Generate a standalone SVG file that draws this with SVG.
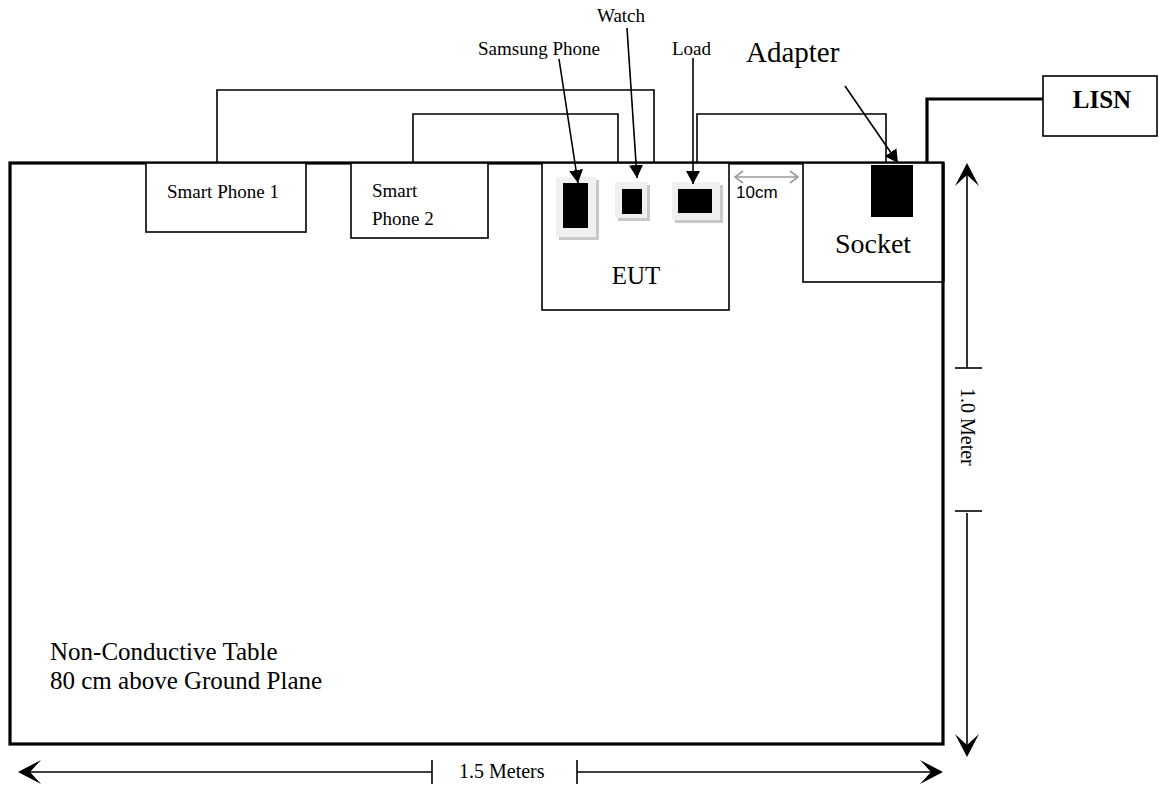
<svg xmlns="http://www.w3.org/2000/svg" width="1159" height="787" viewBox="0 0 1159 787">
<style>
.t{font-family:"Liberation Serif","Times New Roman",serif;fill:#000}
.a{font-family:"Liberation Sans",Arial,sans-serif}
.box{fill:#fff;stroke:#000;stroke-width:1.6}
.wire{fill:none;stroke:#000;stroke-width:1.6}
.thick{fill:none;stroke:#000;stroke-width:3.2}
.dim{fill:none;stroke:#000;stroke-width:1.6}
.ptr{fill:none;stroke:#000;stroke-width:1.6;marker-end:url(#tri)}
.pad{fill:#f0f0f0}
.shd{fill:#c8c8c8}
</style>
<defs>
<marker id="tri" markerWidth="16" markerHeight="16" refX="13" refY="7" orient="auto" markerUnits="userSpaceOnUse">
<path d="M0,0 L13,7 L0,14 Z" fill="#000"/>
</marker>
<marker id="gr" markerWidth="12" markerHeight="14" refX="9" refY="7" orient="auto-start-reverse" markerUnits="userSpaceOnUse">
<path d="M1,1 L9,7 L1,13" fill="none" stroke="#999" stroke-width="1.6"/>
</marker>
<path id="big" d="M0,0 L-23,-12 L-12,0 L-23,12 Z" fill="#000"/>
</defs>

<g id="table">
<rect x="10" y="163" width="933" height="581" fill="#fff" stroke="#000" stroke-width="3.2"/>
<text class="t" x="50" y="660" font-size="25">Non-Conductive Table</text>
<text class="t" x="50" y="689" font-size="25">80 cm above Ground Plane</text>
</g>

<g id="smart-phone-1">
<rect class="box" x="146" y="163" width="160" height="69"/>
<text class="t" x="167" y="198" font-size="19">Smart Phone 1</text>
</g>

<g id="smart-phone-2">
<rect class="box" x="351" y="163" width="137" height="75"/>
<text class="t" x="372" y="197" font-size="19">Smart</text>
<text class="t" x="372" y="225" font-size="19">Phone 2</text>
</g>

<g id="eut">
<rect class="box" x="542" y="163" width="187" height="147"/>
<rect class="shd" x="559" y="180" width="40" height="60"/>
<rect class="pad" x="556" y="177" width="40" height="60"/>
<rect x="563" y="183" width="25" height="45" fill="#000"/>
<rect class="shd" x="618" y="185" width="32" height="36"/>
<rect class="pad" x="615" y="182" width="32" height="36"/>
<rect x="622" y="189" width="20" height="25" fill="#000"/>
<rect class="shd" x="675" y="185" width="48" height="38"/>
<rect class="pad" x="672" y="182" width="48" height="38"/>
<rect x="678" y="189" width="34" height="24" fill="#000"/>
<text class="t" x="636" y="284" font-size="25" text-anchor="middle">EUT</text>
</g>

<g id="labels">
<text class="t" x="478" y="55" font-size="19">Samsung Phone</text>
<text class="t" x="597" y="22" font-size="19">Watch</text>
<text class="t" x="672" y="55" font-size="19">Load</text>
<text class="t" x="746" y="62" font-size="29">Adapter</text>
</g>

<g id="socket">
<rect class="box" x="803" y="163" width="140" height="119"/>
<line x1="943" y1="163" x2="943" y2="282" stroke="#000" stroke-width="3.2"/>
<rect x="871" y="165" width="42" height="52" fill="#000"/>
<text class="t" x="873" y="253" font-size="28" text-anchor="middle">Socket</text>
</g>

<g id="lisn">
<rect class="box" x="1043" y="76" width="114" height="60"/>
<text class="t" x="1102" y="108" font-size="25" font-weight="bold" text-anchor="middle">LISN</text>
</g>

<g id="gap">
<line x1="735" y1="177" x2="798" y2="177" stroke="#999" stroke-width="1.6" marker-start="url(#gr)" marker-end="url(#gr)"/>
<text class="a" x="736" y="198" font-size="17">10cm</text>
</g>

<g id="dim-width">
<line class="dim" x1="20" y1="772" x2="432" y2="772"/>
<line class="dim" x1="577" y1="772" x2="940" y2="772"/>
<line class="dim" x1="432" y1="760" x2="432" y2="784"/>
<line class="dim" x1="577" y1="760" x2="577" y2="784"/>
<use href="#big" transform="translate(18,772) rotate(180)"/>
<use href="#big" transform="translate(943,772)"/>
<text class="t" x="459" y="778" font-size="20">1.5 Meters</text>
</g>

<g id="dim-height">
<line class="dim" x1="967" y1="166" x2="967" y2="368"/>
<line class="dim" x1="967" y1="513" x2="967" y2="754"/>
<line class="dim" x1="955" y1="368" x2="982" y2="368"/>
<line class="dim" x1="955" y1="511" x2="982" y2="511"/>
<use href="#big" transform="translate(967,163) rotate(-90)"/>
<use href="#big" transform="translate(967,757) rotate(90)"/>
<text class="t" font-size="20" transform="translate(961,388) rotate(90)">1.0 Meter</text>
</g>

<g id="connectors">
<polyline class="wire" points="217,163 217,90 654,90 654,163"/>
<polyline class="wire" points="413,163 413,114 618,114 618,163"/>
<polyline class="wire" points="697,163 697,114 886,114 886,163"/>
<polyline class="thick" points="927,163 927,99 1043,99"/>
<line class="ptr" x1="559" y1="59" x2="578" y2="183"/>
<line class="ptr" x1="627" y1="28" x2="637" y2="178"/>
<line class="ptr" x1="693" y1="58" x2="693" y2="184"/>
<line class="ptr" x1="845" y1="86" x2="898" y2="163"/>
</g>
</svg>
